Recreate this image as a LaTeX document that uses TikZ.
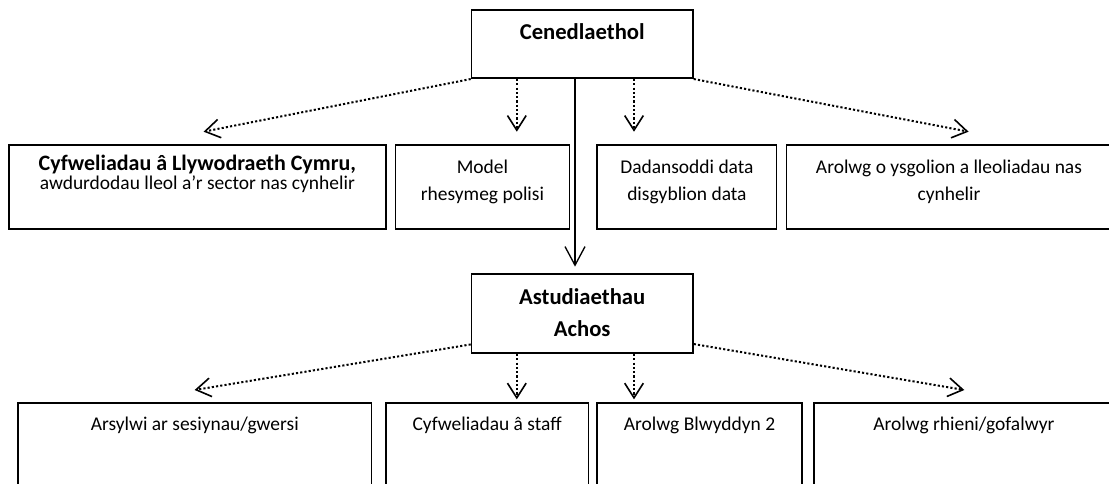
\documentclass[tikz,border=0pt]{standalone}
\usepackage{fontspec}
\setmainfont{Carlito}
\usetikzlibrary{arrows.meta,calc}
\begin{document}
\begin{tikzpicture}[x=0.75pt,y=-0.75pt,
  box/.style={draw,line width=1.3pt,rectangle,inner sep=0pt,anchor=north west},
  txt/.style={align=center,inner sep=0pt,anchor=base,font=\fontsize{14.6}{20.25}\selectfont},
  head/.style={txt,font=\fontsize{17}{23.8}\selectfont\bfseries},
  tight/.style={txt,font={\fontsize{14.6}{14.1}\selectfont\lineskiplimit-30pt\relax}},
  dotarrow/.style={line width=1.5pt,dash pattern=on 1.6pt off 1.6pt,
     -{Straight Barb[length=11pt,width=14pt,line width=1.2pt]}},
  solidarrow/.style={line width=1pt,shorten >=5pt,
     -{Straight Barb[length=14pt,width=15pt,line width=1pt]}}]
\clip (0,0) rectangle (1109,483);
% boxes
\node[box,minimum width=221.3*0.75pt,minimum height=68.3*0.75pt] (cen) at (470.7,9) {};
\node[box,minimum width=377*0.75pt,minimum height=84.3*0.75pt] (b1) at (8,144) {};
\node[box,minimum width=174*0.75pt,minimum height=84.3*0.75pt] (b2) at (394.6,144) {};
\node[box,minimum width=179.3*0.75pt,minimum height=84.3*0.75pt] (b3) at (596.4,144) {};
\node[box,minimum width=326.3*0.75pt,minimum height=84.3*0.75pt] (b4) at (785.7,144) {};
\node[box,minimum width=221.3*0.75pt,minimum height=79*0.75pt] (ast) at (470.7,273.3) {};
\node[box,minimum width=353.6*0.75pt,minimum height=118*0.75pt] (c1) at (17.1,402.3) {};
\node[box,minimum width=202.5*0.75pt,minimum height=118*0.75pt] (c2) at (385,402.3) {};
\node[box,minimum width=204.6*0.75pt,minimum height=118*0.75pt] (c3) at (596.4,402.3) {};
\node[box,minimum width=300*0.75pt,minimum height=118*0.75pt] (c4) at (813,402.3) {};
% baseline helpers
\coordinate (y1) at (0,39.3);
\coordinate (y2) at (0,189.6);
\coordinate (y3) at (0,200);
\coordinate (y4) at (0,336.7);
\coordinate (y5) at (0,430);
% texts (base anchor = baseline of the last line)
\node[head] (cent) at (cen.north |- y1) {Cenedlaethol};
\node[tight] (b1t) at (b1.north |- y2) {{\fontsize{16.5}{14.1}\selectfont\bfseries Cyfweliadau â Llywodraeth Cymru,}\\awdurdodau lleol a’r sector nas cynhelir};
\node[txt] (b2t) at (b2.north |- y3) {Model\\rhesymeg polisi};
\node[txt] (b3t) at (b3.north |- y3) {Dadansoddi data\\disgyblion data};
\node[txt] (b4t) at (949,200) {Arolwg o ysgolion a lleoliadau nas\\cynhelir};
\node[head] (astt) at (ast.north |- y4) {Astudiaethau\\Achos};
\node[txt] (c1t) at (c1.north |- y5) {Arsylwi ar sesiynau/gwersi};
\node[txt] (c2t) at (c2.north |- y5) {Cyfweliadau â staff};
\node[txt] (c3t) at (c3.north |- y5) {Arolwg Blwyddyn 2};
\node[txt] (c4t) at (c4.north |- y5) {Arolwg rhieni/gofalwyr};
% arrow ends
\coordinate (e1) at (203.6,131.7);
\coordinate (e2) at (516.8,131.7);
\coordinate (e3) at (634,131.7);
\coordinate (e4) at (968.6,131.7);
\coordinate (e0) at (575,273.3);
\coordinate (f1) at (194.6,390);
\coordinate (f2) at (516.8,399.3);
\coordinate (f3) at (634,399.3);
\coordinate (f4) at (964.3,390);
% connectors
\draw[dotarrow] (cen.south west) -- (e1);
\draw[dotarrow] (cen.south -| e2) -- (e2);
\draw[dotarrow] (cen.south -| e3) -- (e3);
\draw[dotarrow] (cen.south east) -- (e4);
\draw[solidarrow] (cen.south -| e0) -- (ast.north -| e0);
\draw[dotarrow] ($(ast.south west)+(0,-9.6)$) -- (f1);
\draw[dotarrow] (ast.south -| f2) -- (f2);
\draw[dotarrow] (ast.south -| f3) -- (f3);
\draw[dotarrow] ($(ast.south east)+(0,-10)$) -- (f4);
\end{tikzpicture}
\end{document}
